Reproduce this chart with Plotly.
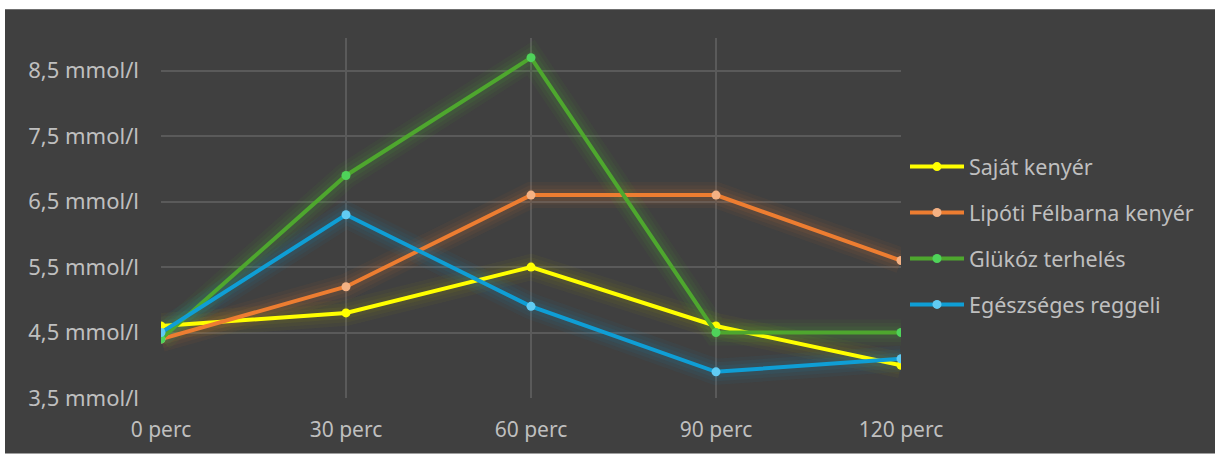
import plotly.graph_objects as go

# Measurement times and blood glucose readings (mmol/l)
times = ["0 perc", "30 perc", "60 perc", "90 perc", "120 perc"]
sajat_kenyer = [4.6, 4.8, 5.5, 4.6, 4.0]
lipoti_felbarna = [4.4, 5.2, 6.6, 6.6, 5.6]
glukoz_terheles = [4.4, 6.9, 8.7, 4.5, 4.5]
egeszseges_reggeli = [4.5, 6.3, 4.9, 3.9, 4.1]

y_tick_values = [3.5, 4.5, 5.5, 6.5, 7.5, 8.5]
y_tick_labels = ["3,5 mmol/l", "4,5 mmol/l", "5,5 mmol/l", "6,5 mmol/l", "7,5 mmol/l", "8,5 mmol/l"]

series = [
    ("Saját kenyér", sajat_kenyer, "#FFFF00", "#FFFF00", (170, 170, 0)),
    ("Lipóti Félbarna kenyér", lipoti_felbarna, "#ED7D31", "#F4B183", (237, 125, 49)),
    ("Glükóz terhelés", glukoz_terheles, "#4EA72E", "#4FD35A", (78, 200, 46)),
    ("Egészséges reggeli", egeszseges_reggeli, "#0F9ED5", "#61CBF3", (15, 158, 213)),
]

W, H = 1215, 455
L, R, T, B = 161, 314, 38, 54
plot_w, plot_h = W - L - R, H - T - B

fig = go.Figure()

# soft glow under each line, built from stacked translucent strokes
for name, vals, line_c, mark_c, glow in series:
    for width, alpha in ((26, 0.05), (19, 0.06), (12, 0.08)):
        fig.add_trace(go.Scatter(
            x=times, y=vals, mode="lines",
            line=dict(color=f"rgba({glow[0]},{glow[1]},{glow[2]},{alpha})", width=width),
            showlegend=False, hoverinfo="skip",
        ))

for i, (name, vals, line_c, mark_c, glow) in enumerate(series):
    fig.add_trace(go.Scatter(
        x=times, y=vals, name=name, mode="lines+markers",
        line=dict(color=line_c, width=4),
        marker=dict(color=mark_c, size=9),
        legendgroup=f"g{i}",
    ))

# dark chart panel with a thin white strip at the top-left edges
fig.add_shape(
    type="rect", xref="paper", yref="paper", layer="below",
    x0=(5 - L) / plot_w, x1=(W - L) / plot_w,
    y0=-(B + 2) / plot_h, y1=(H - B - 9) / plot_h,
    fillcolor="#404040", line=dict(width=0),
)

fig.update_layout(
    width=W, height=H,
    margin=dict(l=L, r=R, t=T, b=B),
    paper_bgcolor="#FFFFFF",
    plot_bgcolor="rgba(0,0,0,0)",
    font=dict(family="Noto Sans", color="#BFBFBF", size=22),
    legend=dict(
        x=(905 - L) / plot_w, y=(401 - 147) / plot_h,
        xanchor="left", yanchor="top",
        bgcolor="rgba(0,0,0,0)",
        font=dict(size=21.5, color="#BFBFBF"),
        tracegroupgap=15,
        traceorder="grouped",
        itemwidth=54,
    ),
    showlegend=True,
)

fig.update_xaxes(
    type="category", range=[0, 4],
    showgrid=True, gridcolor="#5A5A5A", gridwidth=1.5,
    showline=False, zeroline=False, ticks="",
    ticklabelstandoff=17,
    tickfont=dict(size=21, color="#BFBFBF"),
)
fig.update_yaxes(
    range=[3.5, 9.0],
    tickmode="array", tickvals=y_tick_values, ticktext=y_tick_labels,
    showgrid=True, gridcolor="#5A5A5A", gridwidth=1.5,
    showline=False, zeroline=False, ticks="",
    ticklabelstandoff=21,
    tickfont=dict(size=22, color="#BFBFBF"),
)

fig.write_html("out.html")
